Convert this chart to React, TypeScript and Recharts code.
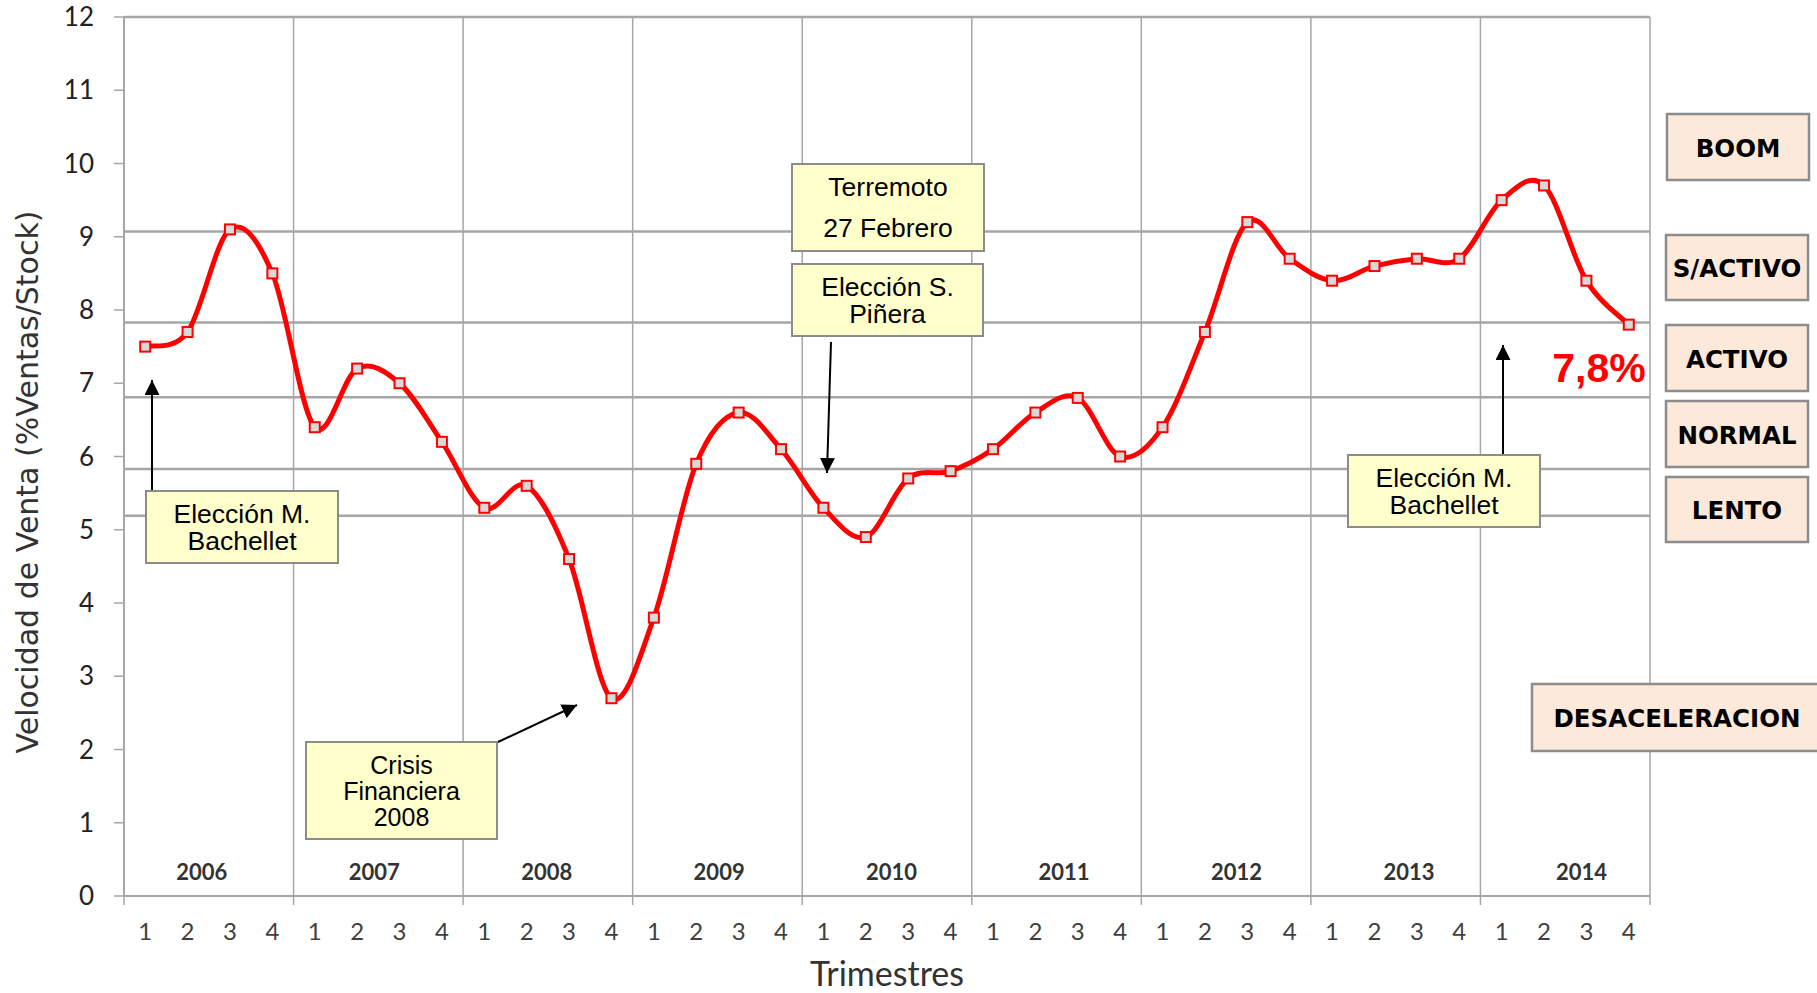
import React from "react";
import { LineChart, Line, XAxis, YAxis, ReferenceLine } from "recharts";

// quarterly sales velocity (% ventas / stock), 2006 Q1 .. 2014 Q4
const years = ["2006", "2007", "2008", "2009", "2010", "2011", "2012", "2013", "2014"];
const quarters = ["1", "2", "3", "4"];
const velocity = [
   7.5, 7.7, 9.1, 8.5,
   6.4, 7.2, 7.0, 6.2,
   5.3, 5.6, 4.6, 2.7,
   3.8, 5.9, 6.6, 6.1,
   5.3, 4.9, 5.7, 5.8,
   6.1, 6.6, 6.8, 6.0,
   6.4, 7.7, 9.2, 8.7,
   8.4, 8.6, 8.7, 8.7,
   9.5, 9.7, 8.4, 7.8,
];
const yTicks = [0, 1, 2, 3, 4, 5, 6, 7, 8, 9, 10, 11, 12];
// limits between BOOM / S-ACTIVO / ACTIVO / NORMAL / LENTO
const thresholds = [9.07, 7.83, 6.81, 5.83, 5.19];
const yearBounds = [0, 4, 8, 12, 16, 20, 24, 28, 32, 36];

const noteBachellet1 = ["Elección M.", "Bachellet"];
const noteCrisis = ["Crisis", "Financiera", "2008"];
const noteTerremoto = ["Terremoto", "27 Febrero"];
const notePinera = ["Elección S.", "Piñera"];
const noteBachellet2 = ["Elección M.", "Bachellet"];
const lastValueLabel = "7,8%";

const data = velocity.map((value, i) => ({
   pos: i + 0.5,
   quarter: quarters[i % 4],
   year: years[Math.floor(i / 4)],
   value,
}));

const W = 1817;
const H = 993;
const PLOT_LEFT = 124;
const PLOT_RIGHT = 1650;
const BAND = (PLOT_RIGHT - PLOT_LEFT) / data.length;
const GRID = "#a6a6a6";

// Excel-like smoothed line (Catmull-Rom through every point)
function smoothCurve(context: any) {
   let pts: number[][] = [];
   return {
      areaStart() {},
      areaEnd() {},
      lineStart() {
         pts = [];
      },
      point(x: number, y: number) {
         pts.push([+x, +y]);
      },
      lineEnd() {
         if (!pts.length) return;
         context.moveTo(pts[0][0], pts[0][1]);
         for (let i = 0; i < pts.length - 1; i++) {
            const p0 = pts[i - 1] || pts[i];
            const p1 = pts[i];
            const p2 = pts[i + 1];
            const p3 = pts[i + 2] || p2;
            context.bezierCurveTo(
               p1[0] + (p2[0] - p0[0]) / 6,
               p1[1] + (p2[1] - p0[1]) / 6,
               p2[0] - (p3[0] - p1[0]) / 6,
               p2[1] - (p3[1] - p1[1]) / 6,
               p2[0],
               p2[1]
            );
         }
      },
   };
}

const QuarterTick = (props: any) => {
   const { x, y, index } = props;
   const d = data[index];
   if (!d) return null;
   const q = index % 4;
   const k = Math.floor(index / 4);
   // the year captions in the original drift slightly right of the year centres
   const drift = -7 + 2.9 * k;
   return (
      <g>
         <text x={x} y={y + 34} textAnchor="middle" dominantBaseline="central" fontFamily="Lato, sans-serif" fontSize={24} fill="#404040">
            {d.quarter}
         </text>
         {q === 1 && (
            <text x={x + BAND / 2 + drift} y={y - 25} textAnchor="middle" dominantBaseline="central" fontFamily="Lato, sans-serif" fontWeight="bold" fontSize={22} fill="#333">
               {d.year}
            </text>
         )}
         {q === 0 && <line x1={x - BAND / 2} x2={x - BAND / 2} y1={y} y2={y + 9} stroke={GRID} strokeWidth={1.5} />}
         {index === data.length - 1 && <line x1={x + BAND / 2} x2={x + BAND / 2} y1={y} y2={y + 9} stroke={GRID} strokeWidth={1.5} />}
      </g>
   );
};

const SquareDot = (props: any) => {
   const { cx, cy, index } = props;
   return <rect key={`dot-${index}`} x={cx - 5} y={cy - 5} width={10} height={10} fill="#d9d9d9" stroke="#ff0000" strokeWidth={2} />;
};

function Note({ lines, x, y, w, h, lineGap, size = 26.5 }: { lines: string[]; x: number; y: number; w: number; h: number; lineGap: number; size?: number }) {
   const cy = y + h / 2;
   const first = cy - ((lines.length - 1) * lineGap) / 2;
   return (
      <g>
         <rect x={x} y={y} width={w} height={h} fill="#ffffcc" stroke="#8c8c8c" strokeWidth={2} />
         {lines.map((t, i) => (
            <text key={i} x={x + w / 2} y={first + i * lineGap} textAnchor="middle" dominantBaseline="central" fontFamily="'Liberation Sans', Arial, sans-serif" fontSize={size} fill="#000">
               {t}
            </text>
         ))}
      </g>
   );
}

function StateBox({ label, x, y, w, h }: { label: string; x: number; y: number; w: number; h: number }) {
   return (
      <g>
         <rect x={x} y={y} width={w} height={h} fill="#fde9d9" stroke="#8c8c8c" strokeWidth={2.5} />
         <text x={x + w / 2} y={y + h / 2 + 1} textAnchor="middle" dominantBaseline="central" fontFamily="'DejaVu Sans', Verdana, sans-serif" fontWeight="bold" fontSize={24.5} fill="#000">
            {label}
         </text>
      </g>
   );
}

export default function App() {
   return (
      <div style={{ position: "absolute", left: 0, top: 0, width: W, height: H, background: "#fff" }}>
         <LineChart width={W} height={H} data={data} margin={{ top: 17, right: W - PLOT_RIGHT, bottom: 0, left: 0 }}>
            <XAxis
               dataKey="pos"
               type="number"
               domain={[0, 36]}
               ticks={data.map((d) => d.pos)}
               interval={0}
               tickLine={false}
               tickSize={0}
               tickMargin={0}
               tick={<QuarterTick />}
               axisLine={{ stroke: GRID, strokeWidth: 2 }}
               height={97}
            />
            <YAxis
               type="number"
               domain={[0, 12]}
               ticks={yTicks}
               interval={0}
               width={PLOT_LEFT}
               tickSize={10}
               tickMargin={20}
               tickLine={{ stroke: GRID, strokeWidth: 1.5 }}
               axisLine={{ stroke: GRID, strokeWidth: 2 }}
               tick={{ fontSize: 26, fill: "#222", fontFamily: "Lato, sans-serif" }}
            />
            {yearBounds.map((b) => (
               <ReferenceLine key={`yb-${b}`} x={b} stroke={GRID} strokeWidth={1.5} />
            ))}
            <ReferenceLine y={12} stroke={GRID} strokeWidth={2.5} />
            {thresholds.map((t) => (
               <ReferenceLine key={`th-${t}`} y={t} stroke={GRID} strokeWidth={2.5} />
            ))}
            <Line
               type={smoothCurve as any}
               dataKey="value"
               stroke="#ff0000"
               strokeWidth={5}
               dot={SquareDot}
               activeDot={false}
               isAnimationActive={false}
            />
         </LineChart>
         <svg width={W} height={H} style={{ position: "absolute", left: 0, top: 0, pointerEvents: "none" }}>
            <defs>
               <marker id="arrowHead" viewBox="0 0 10 10" refX="10" refY="5" markerWidth="15" markerHeight="15" markerUnits="userSpaceOnUse" orient="auto">
                  <path d="M0,0 L10,5 L0,10 z" fill="#000" />
               </marker>
            </defs>
            <text
               transform="translate(27,482) rotate(-90)"
               textAnchor="middle"
               dominantBaseline="central"
               fontFamily="'DejaVu Sans', Verdana, sans-serif"
               fontSize={30}
               fill="#333"
            >
               Velocidad de Venta (%Ventas/Stock)
            </text>
            <text x={887} y={972} textAnchor="middle" dominantBaseline="central" fontFamily="Lato, sans-serif" fontSize={34} fill="#333">
               Trimestres
            </text>

            <line x1={152} y1={491} x2={152} y2={380} stroke="#000" strokeWidth={2} markerEnd="url(#arrowHead)" />
            <line x1={498} y1={742} x2={577} y2={705} stroke="#000" strokeWidth={2} markerEnd="url(#arrowHead)" />
            <line x1={831} y1={342} x2={827} y2={473} stroke="#000" strokeWidth={2} markerEnd="url(#arrowHead)" />
            <line x1={1503} y1={455} x2={1503} y2={345} stroke="#000" strokeWidth={2} markerEnd="url(#arrowHead)" />

            <Note lines={noteBachellet1} x={146} y={491} w={192} h={72} lineGap={27} />
            <Note lines={noteCrisis} x={306} y={742} w={191} h={97} lineGap={26} size={25} />
            <Note lines={noteTerremoto} x={792} y={164} w={192} h={87} lineGap={41} />
            <Note lines={notePinera} x={792} y={264} w={191} h={72} lineGap={27} />
            <Note lines={noteBachellet2} x={1348} y={455} w={192} h={72} lineGap={27} />

            <text x={1599} y={368} textAnchor="middle" dominantBaseline="central" fontFamily="'Liberation Sans', Arial, sans-serif" fontWeight="bold" fontSize={41} fill="#ff0000">
               {lastValueLabel}
            </text>

            <StateBox label="BOOM" x={1667} y={114} w={142} h={66} />
            <StateBox label="S/ACTIVO" x={1666} y={235} w={142} h={65} />
            <StateBox label="ACTIVO" x={1666} y={325} w={142} h={66} />
            <StateBox label="NORMAL" x={1666} y={401} w={142} h={66} />
            <StateBox label="LENTO" x={1666} y={477} w={142} h={65} />
            <StateBox label="DESACELERACION" x={1532} y={684} w={290} h={67} />
         </svg>
      </div>
   );
}
